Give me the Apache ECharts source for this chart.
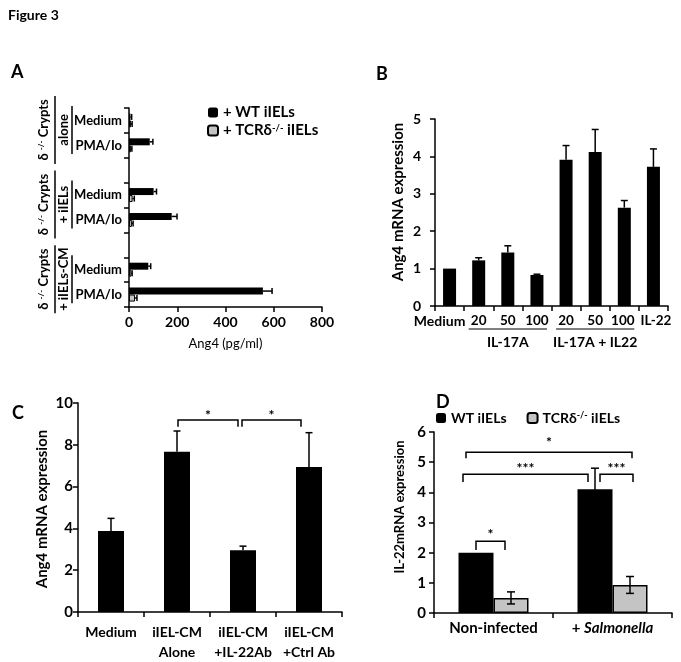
<!DOCTYPE html>
<html><head><meta charset="utf-8">
<script src="https://cdn.jsdelivr.net/npm/echarts@6/dist/echarts.min.js"></script>
<style>html,body{margin:0;padding:0;background:#fff}#c{width:681px;height:662px}</style>
</head><body><div id="c"></div>
<script>
// ---------- Panel A ----------
const aCats = ['Medium', 'PMA/Io', 'Medium', 'PMA/Io', 'Medium', 'PMA/Io'];
const aGroupOuter = ['δ {sup|-/-} Crypts', 'δ {sup|-/-} Crypts', 'δ {sup|-/-} Crypts'];
const aGroupInner = ['alone', '+ iIELs', '+ iIELs-CM'];
const aWT = [6, 86, 102, 177, 80, 555];
const aWTErr = [5, 13, 12, 22, 10, 38];
const aKO = [8, 8, 15, 12, 10, 25];
const aKOErr = [5, 4, 7, 5, 3, 8];
const aTicks = [0, 200, 400, 600, 800];
// ---------- Panel B ----------
const bCats = ['Medium', '20', '50', '100', '20', '50', '100', 'IL-22'];
const bVals = [1.0, 1.22, 1.43, 0.83, 3.91, 4.12, 2.63, 3.72];
const bErr = [0, 0.07, 0.18, 0.02, 0.38, 0.6, 0.19, 0.48];
const bGroups = [{label: 'IL-17A', from: 1, to: 3}, {label: 'IL-17A + IL22', from: 4, to: 6}];
// ---------- Panel C ----------
const cCats = ['Medium', 'iIEL-CM\nAlone', 'iIEL-CM\n+IL-22Ab', 'iIEL-CM\n+Ctrl Ab'];
const cVals = [3.88, 7.67, 2.96, 6.94];
const cErr = [0.6, 0.99, 0.19, 1.64];
const cSig = [{from: 1, to: 2, y: 9.19, leg: 8.86, label: '*'}, {from: 2, to: 3, y: 9.19, leg: 8.86, label: '*'}];
// ---------- Panel D ----------
const dCats = ['Non-infected', '+ Salmonella'];
const dWT = [2.0, 4.1];
const dWTErr = [0, 0.7];
const dKO = [0.5, 0.93];
const dKOErr = [0.2, 0.28];
const dSig = [
  {a: [0, 0], b: [1, 1], y: 5.33, leg: 5.13, label: '*'},
  {a: [0, 0], b: [1, 0], y: 4.6, leg: 4.34, label: '***'},
  {a: [1, 0], b: [1, 1], y: 4.6, leg: 4.34, label: '***'},
  {a: [0, 0], b: [0, 1], y: 2.38, leg: 2.09, label: '*'}
];

const FONT = 'Lato';
const GRAY = '#c4c4c4';
const chart = echarts.init(document.getElementById('c'));

// build A slots with blank spacer between groups
const aSlots = [], aSlotIdx = [];
aCats.forEach((c, i) => { if (i > 0 && i % 2 === 0) aSlots.push(''); aSlotIdx.push(aSlots.length); aSlots.push(c); });
const slotArr = (vals) => { const r = aSlots.map(() => null); vals.forEach((v, i) => r[aSlotIdx[i]] = v); return r; };

const axLine = {show: true, lineStyle: {color: '#000', width: 1.5}};
const axTick = {show: true, length: 5, lineStyle: {color: '#000', width: 1.5}};
const lbl = (size, extra) => Object.assign({color: '#000', fontFamily: FONT, fontWeight: 'bold', fontSize: size}, extra || {});

function errSeries(idx, horizontal, data, offset, twoSided, cap) {
  return {
    type: 'custom', xAxisIndex: idx, yAxisIndex: idx, z: 5, clip: false, silent: true,
    encode: {x: 0, y: 1},
    data: data,
    renderItem: function (params, api) {
      const e = api.value(2);
      if (!e) return null;
      const v = horizontal ? api.value(0) : api.value(1);
      const c = horizontal ? api.value(1) : api.value(0);
      const lo = twoSided ? v - e : v, hi = v + e;
      let p0, p1;
      if (horizontal) { p0 = api.coord([lo, c]); p1 = api.coord([hi, c]); p0[1] += offset; p1[1] += offset; }
      else { p0 = api.coord([c, lo]); p1 = api.coord([c, hi]); p0[0] += offset; p1[0] += offset; }
      const st = {stroke: '#000', lineWidth: 1.5};
      const ch = [{type: 'line', shape: {x1: p0[0], y1: p0[1], x2: p1[0], y2: p1[1]}, style: st}];
      (twoSided ? [p0, p1] : [p1]).forEach(p => {
        ch.push(horizontal
          ? {type: 'line', shape: {x1: p[0], y1: p[1] - cap, x2: p[0], y2: p[1] + cap}, style: st}
          : {type: 'line', shape: {x1: p[0] - cap, y1: p[1], x2: p[0] + cap, y2: p[1]}, style: st});
      });
      return {type: 'group', children: ch};
    }
  };
}

const supRich = (size) => ({sup: {fontSize: size, fontFamily: FONT, fontWeight: 'bold', verticalAlign: 'top', lineHeight: size + 2, padding: [0, 0, 0, 0]}});

const bRich = {
  m: {fontFamily: FONT, fontWeight: 'bold', fontSize: 14, color: '#000', padding: [0, 20, 0, 0]},
  h: {fontFamily: FONT, fontWeight: 'bold', fontSize: 13.5, color: '#000', padding: [0, 3, 0, 0]},
  r: {fontFamily: FONT, fontWeight: 'bold', fontSize: 13.5, color: '#000', padding: [0, 0, 0, 5]}
};

const option = {
  animation: false,
  backgroundColor: '#fff',
  textStyle: {fontFamily: FONT},
  grid: [
    {left: 129, right: 359, top: 108, bottom: 355},
    {left: 435, right: 13, top: 119, bottom: 356},
    {left: 78, right: 339, top: 403, bottom: 49},
    {left: 434, right: 9, top: 432, bottom: 49}
  ],
  xAxis: [
    {gridIndex: 0, type: 'value', min: aTicks[0], max: aTicks[aTicks.length - 1], interval: aTicks[1] - aTicks[0],
     axisLine: axLine, axisTick: axTick, splitLine: {show: false}, axisLabel: lbl(14, {margin: 8}),
     name: 'Ang4 (pg/ml)', nameLocation: 'middle', nameGap: 30,
     nameTextStyle: {fontFamily: FONT, fontSize: 13, color: '#000'}},
    {gridIndex: 1, type: 'category', data: bCats, axisLine: axLine, axisTick: axTick,
     axisLabel: lbl(13.5, {margin: 8, interval: 0,
       formatter: (v, i) => i === 0 ? '{m|' + v + '}' : (i === 6 ? '{h|' + v + '}' : (i === 7 ? '{r|' + v + '}' : v)),
       rich: bRich})},
    {gridIndex: 2, type: 'category', data: cCats, axisLine: axLine, axisTick: axTick,
     axisLabel: lbl(14, {margin: 10, interval: 0, lineHeight: 20})},
    {gridIndex: 3, type: 'category', data: dCats, axisLine: axLine, axisTick: axTick,
     axisLabel: lbl(15, {margin: 8, interval: 0,
       formatter: v => v.startsWith('+ ') ? '+ {it|' + v.slice(2) + '}' : v,
       rich: {it: {fontFamily: FONT, fontWeight: 'bold', fontStyle: 'italic', fontSize: 15, color: '#000'}}})}
  ],
  yAxis: [
    {gridIndex: 0, type: 'category', data: aSlots, inverse: true, axisLine: axLine, axisTick: axTick,
     axisLabel: lbl(13, {margin: 7, interval: 0})},
    {gridIndex: 1, type: 'value', min: 0, max: 5, interval: 1, axisLine: axLine, axisTick: axTick,
     splitLine: {show: false}, axisLabel: lbl(14, {margin: 14})},
    {gridIndex: 2, type: 'value', min: 0, max: 10, interval: 2, axisLine: axLine, axisTick: axTick,
     splitLine: {show: false}, axisLabel: lbl(15, {margin: 5})},
    {gridIndex: 3, type: 'value', min: 0, max: 6, interval: 1, axisLine: axLine, axisTick: axTick,
     splitLine: {show: false}, axisLabel: lbl(15, {margin: 8})}
  ],
  legend: [
    {data: ['+ WT iIELs', '+ TCRδ-/- iIELs'], orient: 'vertical', left: 207, top: 105, itemGap: 3,
     itemWidth: 10, itemHeight: 10, padding: 0, selectedMode: false,
     formatter: n => n.replace('-/-', '{sup|-/-}'),
     textStyle: Object.assign(lbl(15), {rich: supRich(9.5)})},
    {data: ['WT iIELs', 'TCRδ-/- iIELs'], orient: 'horizontal', left: 436, top: 411, itemGap: 20,
     itemWidth: 10, itemHeight: 10, padding: 0, selectedMode: false,
     formatter: n => n.replace('-/-', '{sup|-/-}'),
     textStyle: Object.assign(lbl(14), {rich: supRich(9)})}
  ],
  series: [
    {name: '+ WT iIELs', type: 'bar', xAxisIndex: 0, yAxisIndex: 0, data: slotArr(aWT), barWidth: 7, barGap: 0,
     itemStyle: {color: '#000'}},
    {name: '+ TCRδ-/- iIELs', type: 'bar', xAxisIndex: 0, yAxisIndex: 0, data: slotArr(aKO), barWidth: 7, barGap: 0,
     itemStyle: {color: GRAY, borderColor: '#000', borderWidth: 1}},
    errSeries(0, true, aWT.map((v, i) => [v, aSlotIdx[i], aWTErr[i]]), -3.5, false, 3),
    errSeries(0, true, aKO.map((v, i) => [v, aSlotIdx[i], aKOErr[i]]), 3.5, false, 3),

    {name: 'B', type: 'bar', xAxisIndex: 1, yAxisIndex: 1, data: bVals, barWidth: 13, itemStyle: {color: '#000'}},
    errSeries(1, false, bVals.map((v, i) => [i, v, bErr[i]]), 0, false, 3.5),

    {name: 'C', type: 'bar', xAxisIndex: 2, yAxisIndex: 2, data: cVals, barWidth: 26, itemStyle: {color: '#000'}},
    errSeries(2, false, cVals.map((v, i) => [i, v, cErr[i]]), 0, false, 3.5),

    {name: 'WT iIELs', type: 'bar', xAxisIndex: 3, yAxisIndex: 3, data: dWT, barWidth: 35, barGap: 0,
     itemStyle: {color: '#000'}},
    {name: 'TCRδ-/- iIELs', type: 'bar', xAxisIndex: 3, yAxisIndex: 3, data: dKO, barWidth: 35, barGap: 0,
     itemStyle: {color: GRAY, borderColor: '#000', borderWidth: 1.5}},
    errSeries(3, false, dWT.map((v, i) => [i, v, dWTErr[i]]), -17.5, true, 4),
    errSeries(3, false, dKO.map((v, i) => [i, v, dKOErr[i]]), 17.5, true, 4)
  ]
};
chart.setOption(option);

// ---------- annotations positioned through the axes ----------
const P = (g, x, y) => chart.convertToPixel({xAxisIndex: g, yAxisIndex: g}, [x, y]);
const G = [];
const txt = (x, y, text, size, extra) => G.push({type: 'text', x: x, y: y, silent: true,
  style: Object.assign({text: text, fontFamily: FONT, fontWeight: 'bold', fontSize: size, fill: '#000',
    align: 'center', verticalAlign: 'middle'}, extra || {})});
const vtxt = (x, y, text, size) => G.push({type: 'text', x: x, y: y, rotation: Math.PI / 2, silent: true,
  style: {text: text, fontFamily: FONT, fontWeight: 'bold', fontSize: size, fill: '#000',
    align: 'center', verticalAlign: 'middle', rich: supRich(8)}});
const line = (x1, y1, x2, y2, w) => G.push({type: 'line', silent: true, shape: {x1, y1, x2, y2},
  style: {stroke: '#000', lineWidth: w || 1.5}});
const bracket = (x1, x2, yt, yb, label, lift) => {
  G.push({type: 'polyline', silent: true, shape: {points: [[x1, yb], [x1, yt], [x2, yt], [x2, yb]]},
    style: {stroke: '#000', lineWidth: 1.5, fill: null}});
  txt((x1 + x2) / 2, yt - lift, label, 14, {letterSpacing: 2});
};

// titles and panel letters
txt(8, 15, 'Figure 3', 14, {align: 'left'});
txt(11, 72, 'A', 18, {align: 'left'});
txt(376, 74, 'B', 18, {align: 'left'});
txt(12, 413, 'C', 18, {align: 'left'});
txt(436, 402, 'D', 18, {align: 'left'});

// y axis names
vtxt(398, 202, 'Ang4 mRNA expression', 15);
vtxt(42, 509, 'Ang4 mRNA expression', 15);
vtxt(400, 507, 'IL-22mRNA expression', 13);

// panel A group labels
for (let g = 0; g < 3; g++) {
  const y1 = P(0, 0, aSlotIdx[g * 2])[1], y2 = P(0, 0, aSlotIdx[g * 2 + 1])[1];
  const cy = (y1 + y2) / 2 - 3;
  vtxt(44, cy, aGroupOuter[g], 13);
  line(55, cy - 34, 55, cy + 34, 1.5);
  vtxt(64, cy, aGroupInner[g], 13);
  line(72, cy - 24, 72, cy + 24, 1.5);
}

// panel B group underlines
bGroups.forEach(gr => {
  const a = P(1, gr.from, 0), b = P(1, gr.to, 0);
  line(a[0] - 10, a[1] + 23, b[0] + 10, a[1] + 23, 1.2);
  txt((a[0] + b[0]) / 2, a[1] + 36, gr.label, 14);
});

// panel C significance
cSig.forEach((s, k) => {
  const a = P(2, s.from, s.y), b = P(2, s.to, s.y), l = P(2, s.from, s.leg);
  const x1 = a[0] + (k === 0 ? 1 : -1), x2 = b[0] + (k === 0 ? -5 : -8);
  bracket(x1, x2, a[1], l[1], s.label, 4);
});

// panel D significance
const dOff = [-17.5, 17.5];
const dNudge = [[-10, 2], [-13, -7], [5, 3], [0, -6]];
const dLift = [10, 6, 6, 7];
dSig.forEach((s, k) => {
  const a = P(3, s.a[0], s.y), b = P(3, s.b[0], s.y), l = P(3, s.a[0], s.leg);
  bracket(a[0] + dOff[s.a[1]] + dNudge[k][0], b[0] + dOff[s.b[1]] + dNudge[k][1], a[1], l[1], s.label, dLift[k]);
});

chart.setOption({graphic: G});
</script></body></html>
